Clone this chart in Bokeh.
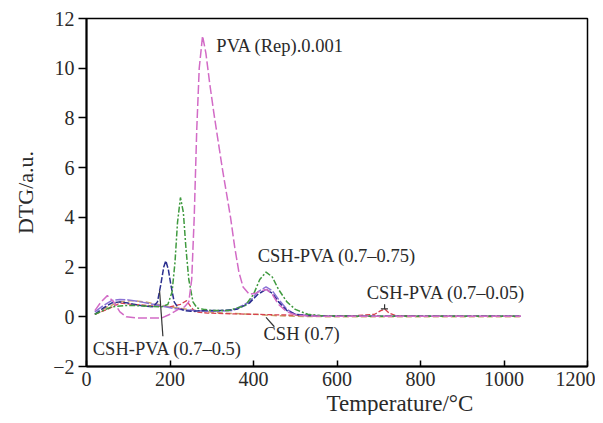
from bokeh.plotting import figure
from bokeh.models import Label, Range1d, FixedTicker, ColumnDataSource, Title
from bokeh.embed import file_html
from bokeh.resources import INLINE

# ---- data ----
T_pva = [20, 35, 50, 65, 80, 95, 120, 150, 180, 200, 220, 235, 245, 252, 258, 264, 270, 278, 286, 295,
         305, 315, 325, 335, 345, 355, 365, 375, 390, 405, 420, 432, 445, 460, 480, 500, 530, 600, 700, 800, 900, 1040]
v_pva = [0.25, 0.6, 0.85, 0.6, 0.2, 0.0, -0.05, -0.05, -0.05, 0.1, 0.3, 0.4, 0.6, 1.5, 4.0, 7.5, 10.0, 11.3, 10.6, 9.4,
         8.2, 7.1, 6.0, 5.0, 4.0, 2.8, 1.8, 1.2, 0.9, 0.95, 1.05, 1.1, 0.9, 0.5, 0.2, 0.08, 0.03, 0.02, 0.02, 0.02, 0.02, 0.02]

T_g = [20, 40, 60, 90, 120, 150, 180, 195, 205, 212, 218, 225, 232, 238, 245, 255, 265, 280, 300, 340, 380, 400,
       415, 430, 445, 460, 480, 500, 530, 560, 600, 700, 800, 900, 1040]
v_g = [0.1, 0.25, 0.4, 0.45, 0.45, 0.42, 0.4, 0.5, 1.0, 2.2, 3.8, 4.8, 4.2, 2.8, 1.5, 0.6, 0.35, 0.3, 0.25, 0.25, 0.45, 0.9,
       1.5, 1.8, 1.6, 1.1, 0.6, 0.3, 0.1, 0.05, 0.03, 0.02, 0.02, 0.02, 0.02]

T_b = [20, 40, 60, 80, 100, 130, 160, 170, 178, 185, 190, 196, 203, 210, 220, 235, 250, 280, 320, 360, 390, 410,
       430, 445, 460, 480, 500, 530, 600, 700, 800, 900, 1040]
v_b = [0.1, 0.35, 0.55, 0.6, 0.55, 0.45, 0.4, 0.6, 1.3, 2.0, 2.25, 1.9, 1.2, 0.6, 0.35, 0.25, 0.22, 0.25, 0.25, 0.3, 0.55, 0.9,
       1.1, 0.95, 0.6, 0.25, 0.1, 0.05, 0.03, 0.02, 0.02, 0.02, 0.02]

T_p = [20, 40, 60, 80, 100, 130, 160, 190, 220, 260, 300, 350, 390, 410, 430, 445, 460, 480, 500, 530, 600, 700, 800, 900, 1040]
v_p = [0.2, 0.45, 0.65, 0.7, 0.68, 0.6, 0.5, 0.4, 0.3, 0.25, 0.22, 0.25, 0.6, 1.0, 1.2, 1.05, 0.7, 0.3, 0.1, 0.05, 0.03, 0.02, 0.02, 0.02, 0.02]

T_c = [20, 50, 80, 110, 140, 170, 200, 240, 280, 330, 400, 450, 500, 600, 700, 800, 900, 1040]
v_c = [0.1, 0.4, 0.6, 0.65, 0.6, 0.5, 0.4, 0.3, 0.22, 0.15, 0.1, 0.05, 0.02, 0.0, 0.0, 0.0, 0.0, 0.0]

T_r = [20, 50, 80, 110, 150, 200, 225, 240, 250, 260, 290, 350, 450, 550, 650, 690, 705, 715, 725, 740, 800, 900, 1040]
v_r = [0.1, 0.3, 0.55, 0.5, 0.45, 0.4, 0.5, 0.65, 0.4, 0.2, 0.15, 0.12, 0.08, 0.05, 0.05, 0.1, 0.25, 0.3, 0.15, 0.05, 0.03, 0.03, 0.03]

x_ticks = [0, 200, 400, 600, 800, 1000, 1200]
y_ticks = [-2, 0, 2, 4, 6, 8, 10, 12]

FONT = "Liberation Serif"
TXT = "#2a2a2a"

p = figure(width=595, height=415, output_backend="svg", toolbar_location=None,
           x_range=Range1d(0, 1200), y_range=Range1d(-2, 12),
           min_border_left=86, min_border_right=8, min_border_top=18, min_border_bottom=20)
p.grid.visible = False
p.outline_line_color = "black"
p.outline_line_width = 1.5
p.background_fill_color = "white"

for ax in (p.xaxis[0], p.yaxis[0]):
    ax.axis_line_width = 2
    ax.major_tick_line_width = 1.5
    ax.minor_tick_line_color = None
    ax.major_label_text_font = FONT
    ax.major_label_text_font_size = "20px"
    ax.major_label_text_color = TXT
    ax.axis_label_text_font = FONT
    ax.axis_label_text_font_size = "22px"
    ax.axis_label_text_font_style = "normal"
    ax.axis_label_text_color = TXT

p.xaxis.ticker = FixedTicker(ticks=x_ticks)
p.yaxis.ticker = FixedTicker(ticks=y_ticks)
p.xaxis.major_tick_in = 6
p.xaxis.major_tick_out = 0
p.yaxis.major_tick_in = 0
p.yaxis.major_tick_out = 8
p.yaxis.major_label_standoff = 4
p.yaxis.axis_label = "DTG/a.u."
p.yaxis.axis_label_standoff = 12

p.line(T_c, v_c, color="#c9a46a", line_width=1.5, line_dash="6 3")
p.line(T_r, v_r, color="#d8404f", line_width=1.3, line_dash="5 2")
p.line(T_p, v_p, color="#8b73d6", line_width=1.5, line_dash="10 2")
p.line(T_b, v_b, color="#2b2f8f", line_width=1.5, line_dash="6 2")
p.line(T_g, v_g, color="#3f9a3f", line_width=1.5, line_dash="6 2 2 2")
p.line(T_pva, v_pva, color="#d26bc6", line_width=1.5, line_dash="9 3")

def lab(x, y, t):
    p.add_layout(Label(x=x, y=y, text=t, text_font=FONT, text_font_size="18.5px",
                       text_color=TXT, text_baseline="middle", text_align="left"))

lab(311, 10.9, "PVA (Rep).0.001")
lab(410, 2.45, "CSH-PVA (0.7\u20130.75)")
lab(671, 0.97, "CSH-PVA (0.7\u20130.05)")
lab(424, -0.68, "CSH (0.7)")
lab(15, -1.28, "CSH-PVA (0.7\u20130.5)")

# leader lines of the annotations
seg = ColumnDataSource(dict(x0=[175, 430, 714, 705], y0=[1.05, -0.02, 0.5, 0.32],
                            x1=[183, 450, 714, 722], y1=[-0.78, -0.4, 0.3, 0.32]))
p.segment(x0="x0", y0="y0", x1="x1", y1="y1", source=seg, line_color="#333333", line_width=1.2)

p.add_layout(Title(text="Temperature/\u00b0C", text_font=FONT, text_font_size="23px",
                   text_font_style="normal", text_color=TXT, align="left",
                   offset=240, standoff=0), "below")

open("out.html", "w").write(file_html(p, INLINE))
